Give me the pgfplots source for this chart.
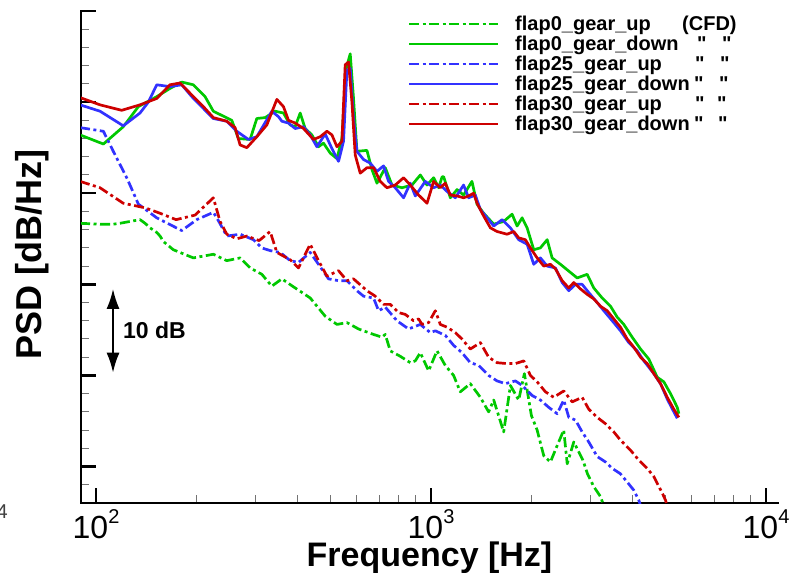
\documentclass[border=0pt]{standalone}
\usepackage{fontspec}
\setmainfont{Liberation Sans}
\newfontfamily\qfont{Liberation Sans}[Ligatures=TeXOff]
\newcommand{\dq}{{\qfont"}}
\usepackage{pgfplots}
\pgfplotsset{compat=1.18}
\usetikzlibrary{arrows.meta}
\definecolor{cgreen}{RGB}{0,200,0}
\definecolor{cblue}{RGB}{50,50,255}
\definecolor{cred}{RGB}{205,0,0}
\begin{document}
\begin{tikzpicture}
\begin{axis}[
  at={(0pt,0pt)}, anchor=south west,
  scale only axis, width=697pt, height=492pt,
  xmode=log, xmin=90.2, xmax=10860, ymin=0, ymax=54,
  enlargelimits=false,
  axis lines=left,
  axis line style={-, line width=2.5pt, line cap=rect},
  every inner x axis line/.append style={-},
  every inner y axis line/.append style={-},
  every outer x axis line/.append style={-},
  every outer y axis line/.append style={-},
  xtick={100,1000,10000},
  xticklabels={{10\raisebox{15pt}{\fontsize{20}{20}\selectfont 2}},{10\raisebox{15pt}{\fontsize{20}{20}\selectfont 3}},{10\raisebox{15pt}{\fontsize{20}{20}\selectfont 4}}},
  minor xtick={200,300,400,500,600,700,800,900,2000,3000,4000,5000,6000,7000,8000,9000},
  ytick={4,14,24,34,44,54}, yticklabels={},
  minor ytick={2,6,8,10,12,16,18,20,22,26,28,30,32,36,38,40,42,46,48,50,52},
  xtick pos=bottom, ytick pos=left,
  tick align=inside,
  major tick length=15pt, minor tick length=8pt,
  every major tick/.append style={line width=2.5pt, black},
  every minor tick/.append style={line width=1pt, black!55},
  xticklabel style={font=\fontsize{32}{32}\selectfont, inner sep=0pt, anchor=north, yshift=-6.7pt},
  every axis x label/.style={at={(axis description cs:0.5,0)}, anchor=base, yshift=-63pt, inner sep=0pt, font=\bfseries\fontsize{34}{34}\selectfont},
  every axis y label/.style={at={(axis description cs:-0.056,0.506)}, anchor=base, rotate=90, inner sep=0pt, font=\bfseries\fontsize{36}{36}\selectfont},
  xlabel={Frequency [Hz]},
  ylabel={PSD [dB/Hz]},
  clip mode=individual,
  legend style={at={(axis description cs:0.4692,0.9939)}, anchor=north west, draw=none, fill=none, inner sep=0pt, outer sep=0pt, row sep=0pt, column sep=16pt, font=\bfseries\fontsize{20}{20}\selectfont, nodes={inner sep=0pt, text height=16pt, text depth=4pt}, cells={anchor=west}},
  legend image code/.code={\draw[#1, line width=2.2pt] (0pt,0pt) -- (89pt,0pt);},
]
% flap0_gear_up
\addplot[cgreen, line width=2.7pt, line join=round, dash pattern=on 10pt off 3.5pt on 3pt off 3.5pt] coordinates {
(89.6,30.7) (102.8,30.6) (112.6,30.6) (117.9,30.7) (135.3,31.1) (140.1,30.7) (145.0,30.2) (151.8,29.7) (155.3,29.3) (158.9,28.7) (170.1,27.8) (195.3,26.9) (224.0,27.3) (245.7,26.6) (269.2,26.9) (288.4,25.8) (312.6,25.1) (334.9,23.8) (358.8,24.6) (393.1,23.6) (435.9,22.5) (483.3,20.5) (523.8,19.6) (561.0,19.8) (607.7,19.1) (673.7,18.5) (713.8,18.2) (730.2,18.5) (755.8,16.7) (809.6,16.1) (867.3,15.4) (897.6,15.6) (929.0,16.5) (983.7,14.5) (1042,16.7) (1103,15.1) (1168,14.0) (1223,12.2) (1310,13.1) (1404,11.6) (1486,10.0) (1539,11.3) (1648,7.8) (1726,12.9) (1827,11.3) (1900,14.2) (1994,9.6) (2074,8.0) (2170,5.2) (2272,4.5) (2380,6.3) (2490,8.0) (2550,4.3) (2668,6.7) (2841,4.7) (2931,3.2) (3061,1.8) (3205,0.7) (3272,-0.2) (3318,-0.8)
};
\addlegendentry{\makebox[167pt][l]{flap0\_gear\_up}(CFD)}
% flap0_gear_down
\addplot[cgreen, line width=2.7pt, line join=round] coordinates {
(89.6,40.4) (105.2,39.4) (120.6,41.3) (133.8,43.5) (151.8,44.6) (166.3,45.5) (180.3,46.2) (195.3,45.9) (211.6,44.6) (224.0,43.0) (254.3,42.0) (266.1,40.0) (288.4,39.9) (302.0,42.2) (319.8,42.3) (342.6,43.0) (362.8,42.8) (379.8,41.5) (393.1,41.3) (406.9,42.8) (421.1,41.1) (441.0,40.4) (461.5,39.1) (477.6,39.5) (500.2,38.4) (523.8,37.8) (542.1,40.0) (558.3,47.7) (573.9,49.3) (587.1,44.4) (601.0,38.6) (643.8,38.7) (666.4,36.6) (689.7,35.1) (730.2,36.8) (764.7,34.9) (819.2,34.6) (877.5,34.9) (929.0,36.0) (973.0,34.9) (1018,35.7) (1054,34.6) (1079,35.8) (1091,35.8) (1142,33.5) (1196,34.4) (1251,33.8) (1325,35.3) (1372,32.8) (1436,31.8) (1539,30.6) (1648,30.9) (1746,31.7) (1807,30.4) (1871,31.3) (1936,30.2) (2026,27.8) (2121,28.0) (2222,28.9) (2299,26.9) (2434,26.2) (2608,25.3) (2731,24.7) (2925,25.1) (3061,23.6) (3243,22.5) (3434,21.6) (3596,20.4) (3763,19.6) (3986,18.2) (4221,16.9) (4468,15.8) (4735,13.8) (4954,13.3) (5188,12.0) (5433,10.5) (5494,9.8)
};
\addlegendentry{\makebox[182pt][l]{flap0\_gear\_down}\makebox[25pt][l]{\dq}\dq}
% flap25_gear_up
\addplot[cblue, line width=2.7pt, line join=round, dash pattern=on 10pt off 3.5pt on 3pt off 3.5pt] coordinates {
(89.6,41.2) (105.2,40.8) (112.6,38.6) (123.5,35.7) (126.3,34.9) (133.8,32.8) (151.8,31.3) (180.3,29.9) (199.9,31.1) (224.0,31.9) (229.4,31.3) (245.7,29.3) (269.2,29.5) (295.0,28.9) (312.6,28.0) (331.0,27.7) (354.6,27.5) (379.8,26.6) (402.1,26.4) (435.9,27.5) (461.5,26.2) (494.4,24.6) (529.6,24.4) (561.0,24.4) (601.0,23.3) (628.9,22.7) (673.7,22.5) (697.4,21.1) (730.2,21.5) (791.4,20.0) (857.2,19.1) (929.0,19.6) (995.2,18.7) (1030,18.9) (1103,18.4) (1168,17.3) (1237,16.5) (1310,15.4) (1387,15.1) (1486,14.0) (1574,13.4) (1667,13.1) (1786,13.4) (1871,12.9) (2003,11.8) (2121,11.3) (2246,10.5) (2380,9.8) (2490,11.3) (2578,9.4) (2699,9.1) (2826,7.8) (2957,6.7) (3134,5.1) (3318,4.5) (3475,3.8) (3678,3.2) (3852,2.3) (4031,1.4) (4172,0.3) (4250,-0.6)
};
\addlegendentry{\makebox[180pt][l]{flap25\_gear\_up}\makebox[25pt][l]{\dq}\dq}
% flap25_gear_down
\addplot[cblue, line width=2.7pt, line join=round] coordinates {
(89.6,43.7) (102.8,43.0) (120.6,41.4) (135.3,42.8) (143.3,44.0) (151.8,45.9) (166.3,45.7) (180.3,45.9) (193.2,44.6) (209.2,43.3) (224.0,42.2) (245.7,41.9) (263.2,40.8) (285.1,39.9) (302.0,40.2) (334.9,43.0) (350.5,42.4) (358.8,41.9) (375.4,41.7) (393.1,41.1) (416.3,41.3) (435.9,40.4) (456.4,39.1) (483.3,40.5) (506.1,38.9) (529.6,37.5) (548.1,39.7) (561.0,47.5) (573.9,47.7) (587.1,42.2) (601.0,38.6) (628.9,37.7) (658.6,37.3) (689.7,36.4) (721.7,37.0) (747.0,35.3) (782.2,34.6) (828.2,33.5) (867.3,35.1) (897.6,33.7) (961.6,35.3) (1018,34.6) (1066,34.9) (1116,34.2) (1182,33.5) (1251,34.9) (1295,33.5) (1356,33.8) (1404,32.2) (1470,31.3) (1539,30.4) (1630,31.1) (1726,30.2) (1827,28.9) (1936,28.4) (2026,26.2) (2121,26.9) (2222,26.0) (2352,25.8) (2463,24.2) (2578,23.3) (2699,24.0) (2826,24.0) (2957,23.1) (3134,22.0) (3279,21.1) (3475,20.0) (3678,18.9) (3895,17.6) (4126,16.7) (4318,15.6) (4625,14.2) (4843,13.1) (5072,11.4) (5307,10.0) (5433,9.3)
};
\addlegendentry{\makebox[179pt][l]{flap25\_gear\_down}\makebox[25pt][l]{\dq}\dq}
% flap30_gear_up
\addplot[cred, line width=2.7pt, line join=round, dash pattern=on 10pt off 3.5pt on 3pt off 3.5pt] coordinates {
(89.6,35.3) (102.8,34.6) (120.6,32.9) (140.1,32.4) (155.3,31.8) (173.4,31.1) (197.6,31.6) (224.0,33.5) (234.6,30.9) (245.7,29.5) (263.2,29.0) (282.0,29.3) (306.8,28.8) (331.0,29.8) (346.6,27.5) (379.8,26.7) (402.1,25.8) (435.9,28.4) (461.5,26.6) (489.0,24.9) (529.6,25.5) (561.0,24.4) (587.1,24.6) (643.8,23.3) (681.7,22.7) (721.7,21.8) (755.8,21.8) (800.2,20.9) (837.9,20.7) (887.2,20.0) (918.2,20.2) (940.0,19.6) (983.7,19.8) (1030,21.1) (1066,19.6) (1116,19.3) (1182,18.7) (1237,18.0) (1310,16.9) (1404,17.6) (1486,16.0) (1574,15.4) (1687,15.3) (1786,15.3) (1892,15.6) (1980,14.0) (2074,13.3) (2196,12.2) (2324,11.6) (2490,12.3) (2639,11.1) (2826,11.6) (2957,10.3) (3134,9.4) (3318,8.7) (3513,7.8) (3678,6.9) (3940,5.8) (4172,4.7) (4420,3.8) (4625,2.9) (4788,1.8) (4900,1.1) (5013,0.3) (5083,-0.5)
};
\addlegendentry{\makebox[180pt][l]{flap30\_gear\_up}\makebox[22pt][l]{\dq}\dq}
% flap30_gear_down
\addplot[cred, line width=2.7pt, line join=round] coordinates {
(89.6,44.5) (102.8,43.7) (119.3,43.1) (135.3,43.7) (151.8,44.4) (166.3,45.9) (178.2,46.1) (195.3,44.6) (209.2,43.5) (224.0,42.3) (245.7,41.9) (260.1,41.2) (269.2,39.3) (282.0,39.0) (302.0,40.2) (323.6,41.5) (346.6,44.3) (362.8,43.5) (375.4,42.0) (393.1,41.7) (416.3,41.1) (445.9,39.9) (466.9,40.2) (489.0,40.8) (506.1,40.4) (523.8,39.1) (542.1,39.7) (554.5,48.1) (567.3,48.4) (580.7,44.0) (594.0,38.2) (614.8,36.2) (643.8,36.8) (673.7,36.8) (705.5,35.3) (738.8,34.6) (782.2,34.9) (828.2,35.7) (867.3,34.9) (918.2,33.8) (973.0,32.9) (1018,35.3) (1066,34.6) (1103,35.1) (1142,33.8) (1196,33.7) (1251,33.5) (1295,33.7) (1340,34.0) (1372,32.9) (1436,31.5) (1504,30.2) (1574,29.8) (1687,29.5) (1766,29.8) (1827,29.1) (1913,28.9) (1980,28.0) (2074,26.9) (2170,26.0) (2272,26.2) (2352,25.7) (2463,24.4) (2578,23.6) (2668,24.2) (2793,23.5) (2925,22.9) (3061,22.4) (3205,21.6) (3357,21.1) (3513,20.2) (3678,19.3) (3852,18.0) (4031,17.1) (4221,16.0) (4420,15.3) (4625,14.2) (4843,13.1) (5072,11.6) (5307,10.3) (5494,9.4)
};
\addlegendentry{\makebox[179pt][l]{flap30\_gear\_down}\makebox[24pt][l]{\dq}\dq}
\draw[line width=2pt, {Latex[length=20pt,width=13pt]}-{Latex[length=20pt,width=13pt]}] (axis cs:112.4,23.5) -- (axis cs:112.4,14.3);
\node[anchor=base west, inner sep=0pt, font=\bfseries\fontsize{23}{23}\selectfont] at (axis cs:120.3,18.1) {10 dB};
\end{axis}
\node[anchor=base east, inner sep=0pt, text=black!75, font=\fontsize{20}{20}\selectfont] at (-73pt,-15pt) {4};
\pgfresetboundingbox
\useasboundingbox (-81pt,-69pt) rectangle (710pt,503pt);
\end{tikzpicture}
\end{document}
